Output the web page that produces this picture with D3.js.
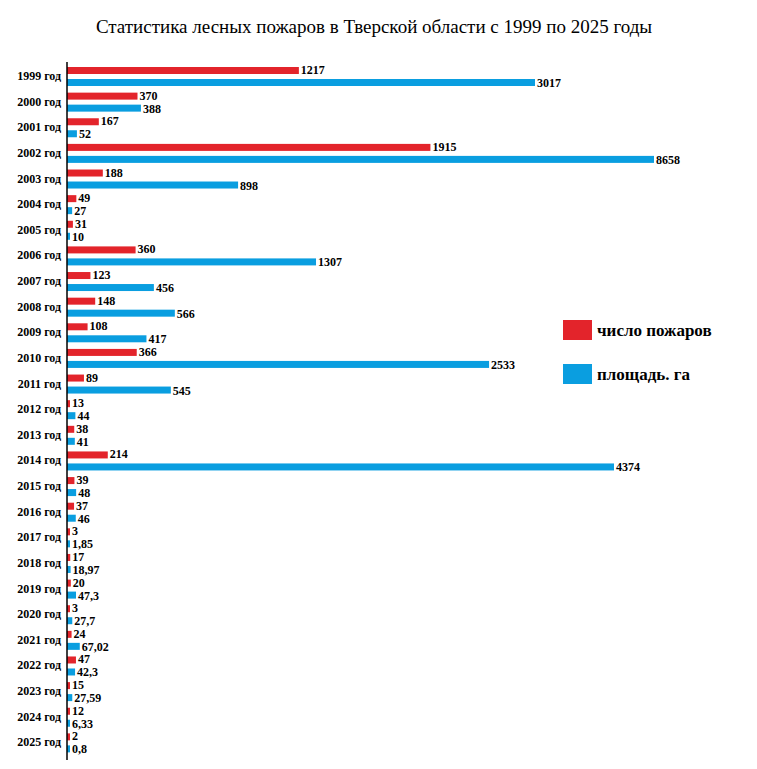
<!DOCTYPE html>
<html><head><meta charset="utf-8">
<script src="https://cdn.jsdelivr.net/npm/d3@7"></script>
<style>body{margin:0;background:#fff}text{font-family:"Liberation Serif","Times New Roman",serif}</style>
</head><body><main></main>
<script>
const years = ["1999","2000","2001","2002","2003","2004","2005","2006","2007","2008","2009","2010","2011","2012","2013","2014","2015","2016","2017","2018","2019","2020","2021","2022","2023","2024","2025"];
const fires = [1217,370,167,1915,188,49,31,360,123,148,108,366,89,13,38,214,39,37,3,17,20,3,24,47,15,12,2];
const areas = [3017,388,52,8658,898,27,10,1307,456,566,417,2533,545,44,41,4374,48,46,1.85,18.97,47.3,27.7,67.02,42.3,27.59,6.33,0.8];
const areaLabels = ["3017","388","52","8658","898","27","10","1307","456","566","417","2533","545","44","41","4374","48","46","1,85","18,97","47,3","27,7","67,02","42,3","27,59","6,33","0,8"];

const width = 757, height = 769;
const left = 67;
const svg = d3.select("main").append("svg").attr("width", width).attr("height", height);

svg.append("text").attr("x", 374).attr("y", 33).attr("text-anchor", "middle")
	.style("font-size", "19px").text("Статистика лесных пожаров в Тверской области с 1999 по 2025 годы");

const yScale = d3.scaleBand().domain(years).range([63, 755]);
// the original bars are drawn out of proportion at the top end
const xScale = d3.scaleLinear().domain([0, 1900, 3017, 4374, 8658]).range([0, 362, 468, 547, 587]);
const w = v => Math.max(3, xScale(v));

const rows = svg.selectAll("g.row").data(years).join("g").attr("class", "row")
	.attr("transform", d => `translate(0,${yScale(d)})`);

rows.append("text").attr("x", 61).attr("y", 17).attr("text-anchor", "end")
	.style("font-size", "12px").style("font-weight", "bold").text(d => d + " год");

rows.append("rect").attr("x", left).attr("y", 4).attr("height", 7)
	.attr("width", (d, i) => w(fires[i])).attr("fill", "#e3242b");
rows.append("rect").attr("x", left).attr("y", 16).attr("height", 7)
	.attr("width", (d, i) => w(areas[i])).attr("fill", "#0a9ee0");

rows.append("text").attr("x", (d, i) => left + w(fires[i]) + 2).attr("y", 11)
	.style("font-size", "12px").style("font-weight", "bold").text((d, i) => fires[i]);
rows.append("text").attr("x", (d, i) => left + w(areas[i]) + 2).attr("y", 24)
	.style("font-size", "12px").style("font-weight", "bold").text((d, i) => areaLabels[i]);

svg.append("line").attr("x1", left).attr("x2", left).attr("y1", 62).attr("y2", 760)
	.attr("stroke", "#000").attr("stroke-width", 1.5);

const legend = [["число пожаров", "#e3242b"], ["площадь. га", "#0a9ee0"]];
legend.forEach(([t, c], i) => {
	svg.append("rect").attr("x", 563).attr("y", 320 + i * 44).attr("width", 29).attr("height", 20).attr("fill", c);
	svg.append("text").attr("x", 597).attr("y", 336 + i * 44).style("font-size", "17px")
		.style("font-weight", "bold").text(t);
});
</script></body></html>
